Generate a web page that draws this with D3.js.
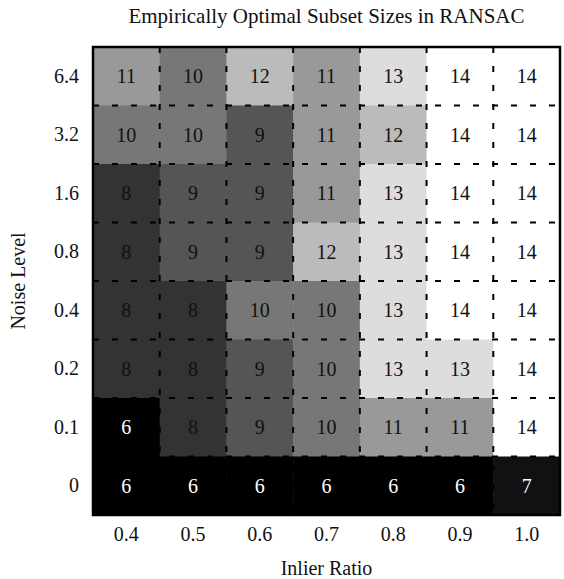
<!DOCTYPE html>
<html>
<head>
<meta charset="utf-8">
<script src="https://cdn.jsdelivr.net/npm/d3@7"></script>
<style>
  body { margin: 0; background: #fff; }
  text { font-family: "Liberation Serif", "Times New Roman", serif; }
</style>
</head>
<body>
<div id="chart"></div>
<script>
// Data
const inlierRatios = ["0.4", "0.5", "0.6", "0.7", "0.8", "0.9", "1.0"];
const noiseLevels = ["6.4", "3.2", "1.6", "0.8", "0.4", "0.2", "0.1", "0"];   // top to bottom
const subsetSizes = [
  [11, 10, 12, 11, 13, 14, 14],
  [10, 10, 9, 11, 12, 14, 14],
  [8, 9, 9, 11, 13, 14, 14],
  [8, 9, 9, 12, 13, 14, 14],
  [8, 8, 10, 10, 13, 14, 14],
  [8, 8, 9, 10, 13, 13, 14],
  [6, 8, 9, 10, 11, 11, 14],
  [6, 6, 6, 6, 6, 6, 7]
];

const margin = { top: 47, right: 4, bottom: 64, left: 93 },
    width = 564 - margin.left - margin.right,
    height = 579 - margin.top - margin.bottom;

const svg = d3.select("#chart")
    .append("svg")
    .attr("width", width + margin.left + margin.right)
    .attr("height", height + margin.top + margin.bottom);

const g = svg.append("g")
    .attr("transform", `translate(${margin.left},${margin.top})`);

const x = d3.scaleBand().domain(inlierRatios).range([0, width]);
const y = d3.scaleBand().domain(noiseLevels).range([0, height]);

// grey ramp: 6 and below black, 14 white
const shade = d3.scaleLinear().domain([6.5, 14]).range([0, 255]).clamp(true);
const grey = v => { const c = Math.round(shade(v)); return `rgb(${c},${c},${c})`; };

const cells = [];
subsetSizes.forEach((row, i) => row.forEach((v, j) => cells.push({ r: noiseLevels[i], c: inlierRatios[j], v })));

g.selectAll("rect.cell")
    .data(cells)
    .enter()
    .append("rect")
    .attr("class", "cell")
    .attr("x", d => x(d.c))
    .attr("y", d => y(d.r))
    .attr("width", x.bandwidth() + 0.5)
    .attr("height", y.bandwidth() + 0.5)
    .attr("fill", d => grey(d.v));

// dashed grid lines between cells
g.selectAll("line.vgrid")
    .data(inlierRatios.slice(1))
    .enter()
    .append("line")
    .attr("x1", d => x(d)).attr("x2", d => x(d))
    .attr("y1", 0).attr("y2", height)
    .attr("stroke", "#000")
    .attr("stroke-width", 2)
    .attr("stroke-dasharray", "6,13");

g.selectAll("line.hgrid")
    .data(noiseLevels.slice(1))
    .enter()
    .append("line")
    .attr("y1", d => y(d)).attr("y2", d => y(d))
    .attr("x1", 0).attr("x2", width)
    .attr("stroke", "#000")
    .attr("stroke-width", 2)
    .attr("stroke-dasharray", "6,13");

g.selectAll("text.val")
    .data(cells)
    .enter()
    .append("text")
    .attr("class", "val")
    .attr("x", d => x(d.c) + x.bandwidth() / 2)
    .attr("y", d => y(d.r) + y.bandwidth() / 2)
    .attr("dy", "0.35em")
    .attr("text-anchor", "middle")
    .style("font-size", "20px")
    .attr("fill", d => d.v <= 7 ? "#fff" : "#111")
    .text(d => d.v);

// frame
g.append("rect")
    .attr("width", width)
    .attr("height", height)
    .attr("fill", "none")
    .attr("stroke", "#000")
    .attr("stroke-width", 2.5);

// axes
const xAxis = g.append("g")
    .attr("transform", `translate(0,${height})`)
    .call(d3.axisBottom(x).tickSize(0).tickPadding(12));
const yAxis = g.append("g")
    .call(d3.axisLeft(y).tickSize(0).tickPadding(14));
[xAxis, yAxis].forEach(a => {
    a.select(".domain").remove();
    a.selectAll("text")
        .style("font-family", "'Liberation Serif', serif")
        .style("font-size", "20px")
        .attr("fill", "#111");
});

svg.append("text")
    .attr("x", margin.left + width / 2)
    .attr("y", 23)
    .attr("text-anchor", "middle")
    .style("font-size", "21px")
    .attr("fill", "#111")
    .text("Empirically Optimal Subset Sizes in RANSAC");

svg.append("text")
    .attr("x", margin.left + width / 2)
    .attr("y", 575)
    .attr("text-anchor", "middle")
    .style("font-size", "20px")
    .attr("fill", "#111")
    .text("Inlier Ratio");

svg.append("text")
    .attr("transform", `translate(25,${margin.top + height / 2}) rotate(-90)`)
    .attr("text-anchor", "middle")
    .style("font-size", "20px")
    .attr("fill", "#111")
    .text("Noise Level");
</script>
</body>
</html>
